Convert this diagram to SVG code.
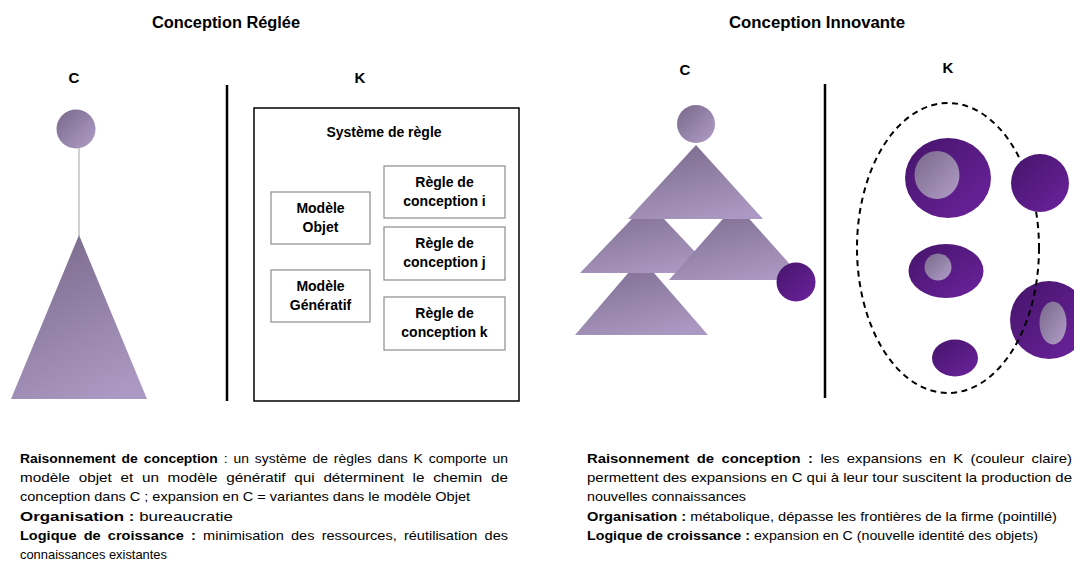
<svg xmlns="http://www.w3.org/2000/svg" width="1074" height="562" viewBox="0 0 1074 562">
<defs>
<linearGradient id="lite" x1="0" y1="0" x2="1" y2="1">
<stop offset="0" stop-color="#786889"/>
<stop offset="1" stop-color="#b19ec9"/>
</linearGradient>
<linearGradient id="liteTri" x1="0.3" y1="0" x2="0.7" y2="1">
<stop offset="0" stop-color="#7c6c8e"/>
<stop offset="1" stop-color="#ac99c3"/>
</linearGradient>
<linearGradient id="dark" x1="0" y1="0" x2="1" y2="1">
<stop offset="0" stop-color="#45146a"/>
<stop offset="1" stop-color="#6c239d"/>
</linearGradient>
<style>
text{font-family:"Liberation Sans",Arial,sans-serif;fill:#000}
.title{font-size:16px;font-weight:bold;text-anchor:middle}
.ck{font-size:15px;font-weight:bold;text-anchor:middle}
.lbl{font-size:14px;font-weight:bold;text-anchor:middle}
.body{font-size:13.6px}
.b{font-weight:bold}
.box{fill:#fff;stroke:#8c8c8c;stroke-width:1.2}
.frame{fill:#fff;stroke:#000;stroke-width:1.5}
.div{stroke:#000;stroke-width:2.5}
.lt{fill:url(#lite)}
.tri{fill:url(#liteTri)}
.dk{fill:url(#dark)}
.conn{stroke:#c6c6c6;stroke-width:1.6;fill:none}
</style>
</defs>
<rect width="1074" height="562" fill="#fff"/>

<text class="title" x="226" y="28" textLength="148" lengthAdjust="spacingAndGlyphs">Conception Réglée</text>
<text class="title" x="817" y="28" textLength="176" lengthAdjust="spacingAndGlyphs">Conception Innovante</text>
<text class="ck" x="74" y="83">C</text>
<text class="ck" x="360" y="83">K</text>
<text class="ck" x="685" y="75">C</text>
<text class="ck" x="948" y="73">K</text>

<line class="div" x1="227" y1="85" x2="227" y2="401"/>
<line class="div" x1="825" y1="84" x2="825" y2="398"/>

<g id="connectors">
<line class="conn" x1="79" y1="146" x2="79" y2="236"/>
</g>

<g id="c-root-left"><circle class="lt" cx="76" cy="129" r="19.5"/></g>
<g id="c-tree-left"><polygon class="tri" points="79,235 147,399 11,399"/></g>

<g id="k-system">
<rect class="frame" x="254" y="108" width="265" height="293"/>
<text class="lbl" x="384" y="137">Système de règle</text>
</g>
<g id="modele-objet">
<rect class="box" x="271" y="192" width="99" height="52"/>
<text class="lbl" x="320.5" y="213">Modèle</text>
<text class="lbl" x="320.5" y="232">Objet</text>
</g>
<g id="modele-generatif">
<rect class="box" x="271" y="270" width="99" height="52"/>
<text class="lbl" x="320.5" y="291">Modèle</text>
<text class="lbl" x="320.5" y="310">Génératif</text>
</g>
<g id="regle-i">
<rect class="box" x="384" y="166" width="121" height="52"/>
<text class="lbl" x="444.5" y="187">Règle de</text>
<text class="lbl" x="444.5" y="206">conception i</text>
</g>
<g id="regle-j">
<rect class="box" x="384" y="227" width="121" height="53"/>
<text class="lbl" x="444.5" y="248">Règle de</text>
<text class="lbl" x="444.5" y="267">conception j</text>
</g>
<g id="regle-k">
<rect class="box" x="384" y="297" width="121" height="53"/>
<text class="lbl" x="444.5" y="318">Règle de</text>
<text class="lbl" x="444.5" y="337">conception k</text>
</g>

<g id="c-tree-innov">
<polygon class="tri" points="641,258 708,335 575,335"/>
<polygon class="tri" points="648,202 715,273 580,273"/>
<polygon class="tri" points="736,204 804,280 669,280"/>
<polygon class="tri" points="696,145 763,219 628,219"/>
<circle class="lt" cx="696" cy="124" r="19"/>
<circle class="dk" cx="796" cy="282" r="19.5"/>
</g>

<g id="k-innov">
<ellipse class="dk" cx="948" cy="178" rx="43" ry="40"/>
<ellipse class="lt" cx="937" cy="175" rx="22.5" ry="24"/>
<ellipse class="dk" cx="946" cy="271" rx="37.5" ry="27"/>
<circle class="lt" cx="938" cy="267" r="13.5"/>
<ellipse class="dk" cx="955" cy="358" rx="23" ry="18.5"/>
<circle class="dk" cx="1049" cy="320" r="39"/>
<ellipse class="lt" cx="1053" cy="323" rx="13.5" ry="21.5"/>
<ellipse cx="948" cy="248" rx="91" ry="145" fill="none" stroke="#000" stroke-width="2" stroke-dasharray="6,4.5"/>
<circle class="dk" cx="1040" cy="183" r="29"/>
</g>

<g id="text-left">
<text class="body" x="20" y="463" word-spacing="2" textLength="488" lengthAdjust="spacingAndGlyphs"><tspan class="b">Raisonnement de conception</tspan> : un système de règles dans K comporte un</text>
<text class="body" x="20" y="482" word-spacing="4" textLength="488" lengthAdjust="spacingAndGlyphs">modèle objet et un modèle génératif qui déterminent le chemin de</text>
<text class="body" x="20" y="501" textLength="450" lengthAdjust="spacingAndGlyphs">conception dans C ; expansion en C = variantes dans le modèle Objet</text>
<text class="body" x="20" y="521" textLength="213" lengthAdjust="spacingAndGlyphs"><tspan class="b">Organisation :</tspan> bureaucratie</text>
<text class="body" x="20" y="540" word-spacing="3" textLength="488" lengthAdjust="spacingAndGlyphs"><tspan class="b">Logique de croissance :</tspan> minimisation des ressources, réutilisation des</text>
<text class="body" x="20" y="559" textLength="147" lengthAdjust="spacingAndGlyphs">connaissances existantes</text>
</g>
<g id="text-right">
<text class="body" x="587" y="463" word-spacing="3" textLength="485" lengthAdjust="spacingAndGlyphs"><tspan class="b">Raisonnement de conception :</tspan> les expansions en K (couleur claire)</text>
<text class="body" x="587" y="482" textLength="485" lengthAdjust="spacingAndGlyphs">permettent des expansions en C qui à leur tour suscitent la production de</text>
<text class="body" x="587" y="501" textLength="159" lengthAdjust="spacingAndGlyphs">nouvelles connaissances</text>
<text class="body" x="587" y="521" textLength="470" lengthAdjust="spacingAndGlyphs"><tspan class="b">Organisation :</tspan> métabolique, dépasse les frontières de la firme (pointillé)</text>
<text class="body" x="587" y="540" textLength="451" lengthAdjust="spacingAndGlyphs"><tspan class="b">Logique de croissance :</tspan> expansion en C (nouvelle identité des objets)</text>
</g>
</svg>
